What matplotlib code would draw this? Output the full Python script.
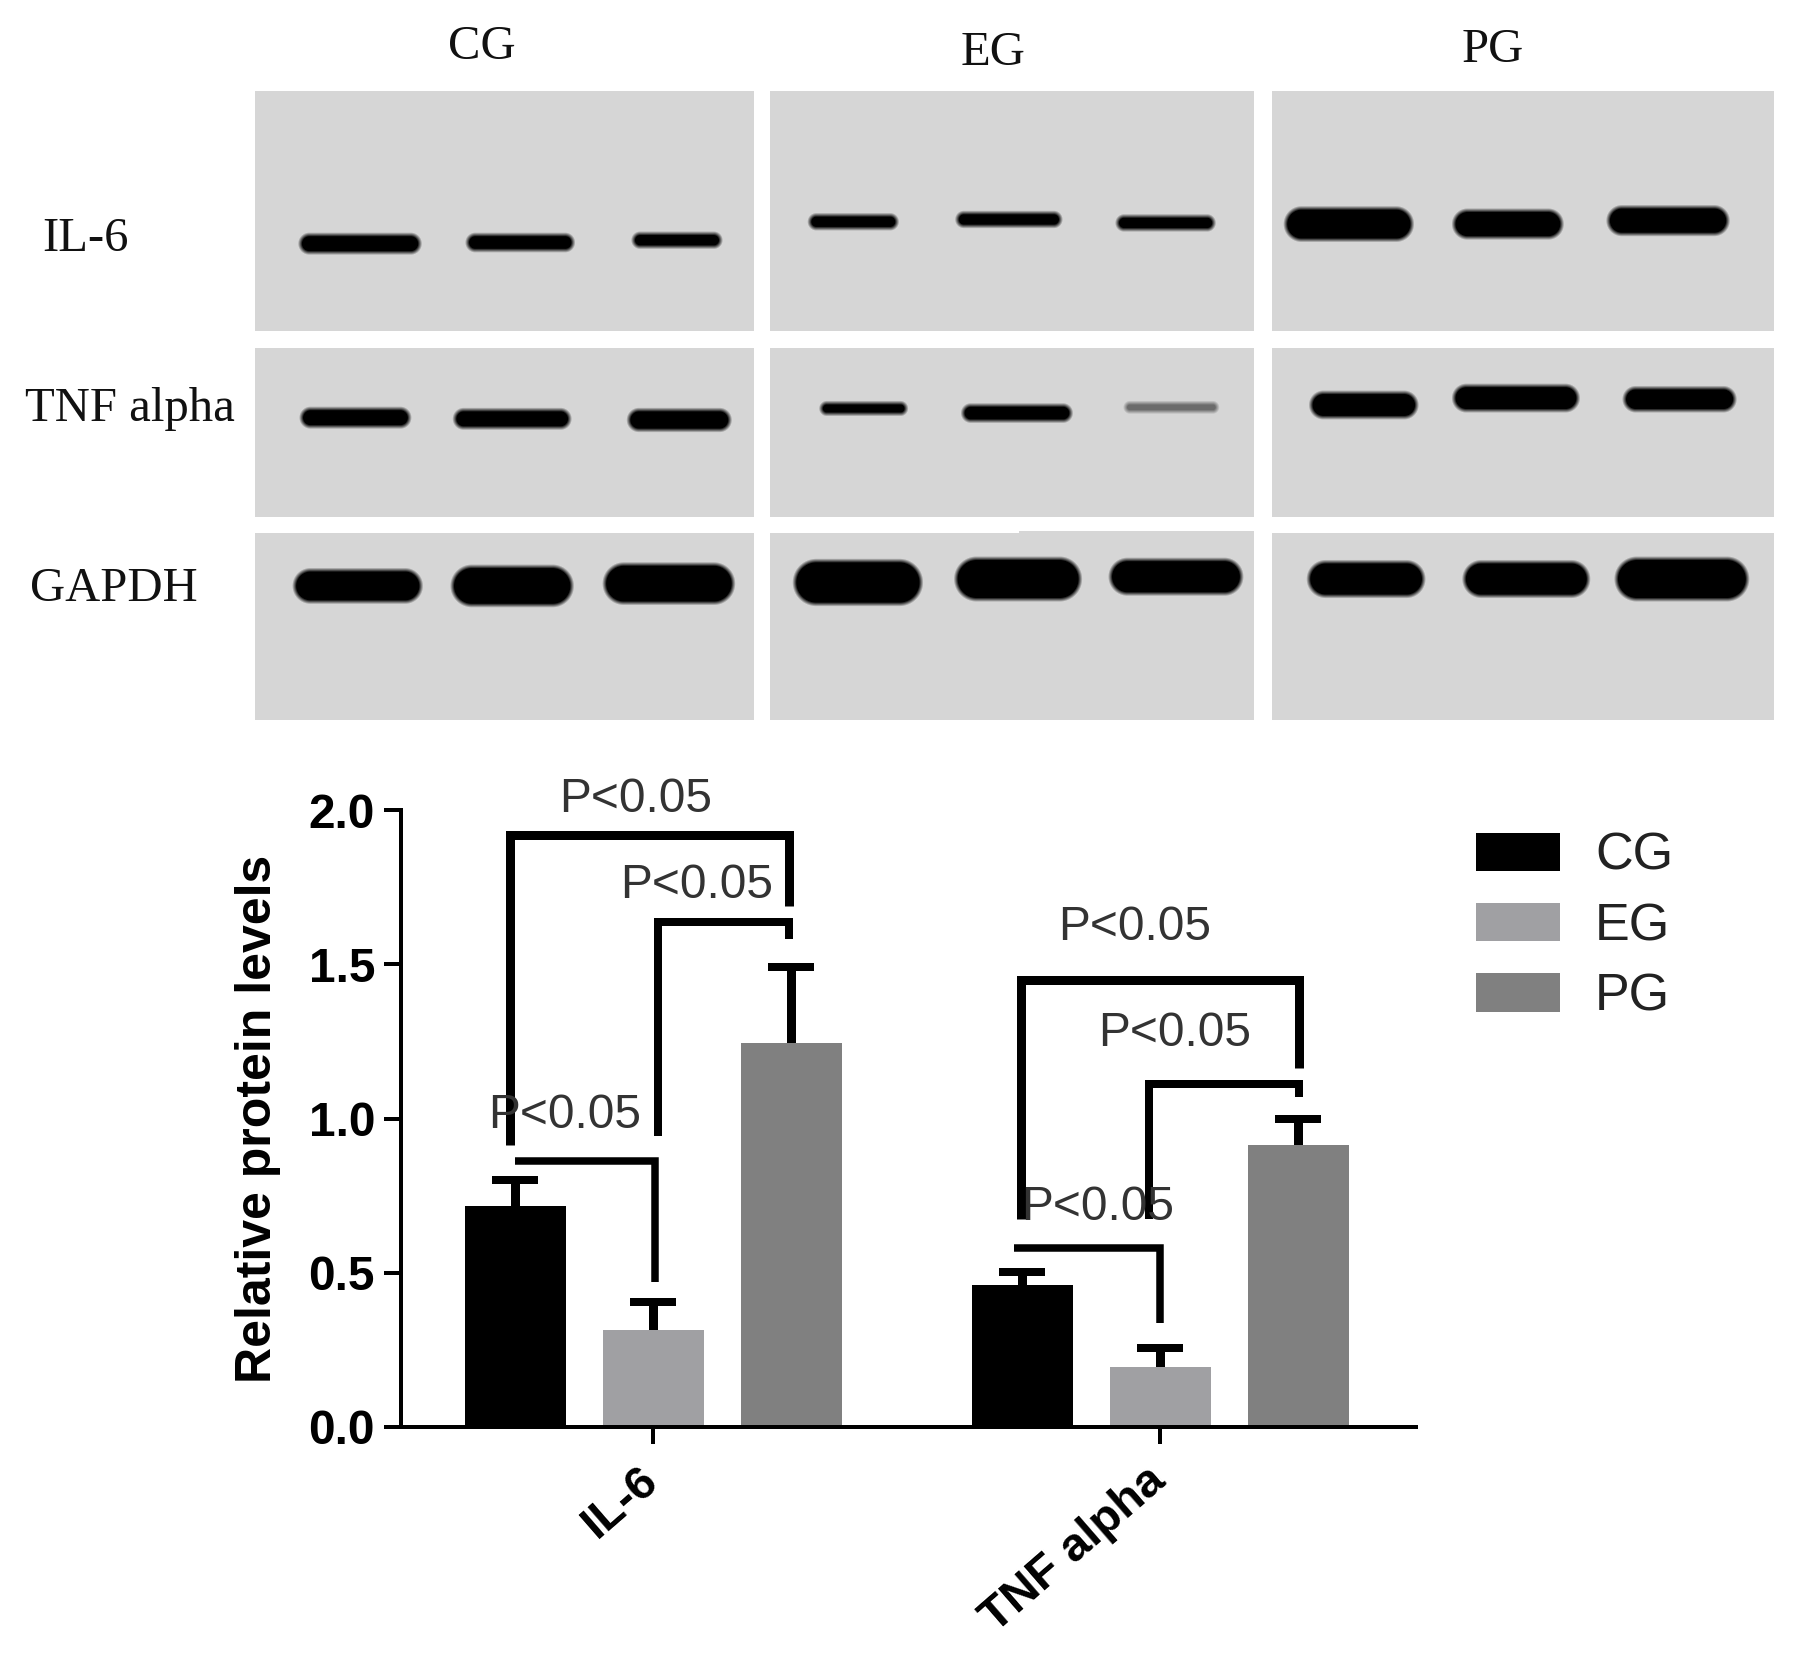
import numpy as np
import matplotlib
matplotlib.use("Agg")
import matplotlib.pyplot as plt
from matplotlib.patches import Patch
from matplotlib.transforms import ScaledTranslation

# ---------- data ----------
groups = ["IL-6", "TNF alpha"]
series = ["CG", "EG", "PG"]
cg_vals = [0.716, 0.461]
eg_vals = [0.313, 0.194]
pg_vals = [1.246, 0.914]
cg_err = [0.085, 0.040]
eg_err = [0.092, 0.063]
pg_err = [0.244, 0.086]
yticks = [0.0, 0.5, 1.0, 1.5, 2.0]
colors = ["#000000", "#A0A0A3", "#808080"]
p_text = "P<0.05"

blot_rows = ["IL-6", "TNF alpha", "GAPDH"]
# blot bands: centre x, centre y, half width, half height, strength (in shown-size px)
bands_il6 = [(312,211,52,8,1),(451,210,46,7,1),(587,208,38,6,1),
             (740,192,38,6,1),(875,190,45,6,1),(1011,193,42,6,1),
             (1170,194,55,14,1),(1308,194,47,12,1),(1447,191,52,12,1)]
bands_tnf = [(308,362,47,8,1),(444,363,50,8,1),(589,364,44,9,1),
             (749,354,37,5,1),(882,358,47,7,1),(1016,353,40,4,.5),
             (1183,351,46,11,1),(1315,345,54,11,1),(1457,346,48,10,1)]
bands_gapdh = [(310,508,55,14,1),(444,508,52,17,1),(580,506,56,17,1),
               (744,505,55,19,1),(883,502,54,18,1),(1020,500,57,15,1),
               (1185,502,50,15,1),(1324,502,54,15,1),(1459,502,57,18,1)]
panel_cols = [(222,655),(669,1089),(1104,1540)]
panel_rows = [(79,288),(302,449),(463,625)]

W, H = 1807, 1657
DISP = W / 1568
DPI = 100
plt.rcParams["font.family"] = ["Liberation Sans", "DejaVu Sans"]
fig = plt.figure(figsize=(W/DPI, H/DPI), dpi=DPI, facecolor="white")
pt = 72 / DPI  # px -> pt

# ---------- chart ----------
ax = fig.add_axes([401/W, 1-1427/H, (1416-401)/W, (1427-810)/H])
x = np.arange(len(groups))
off = 138/507
bw = 101/507
for i, (vals, errs, c, s) in enumerate(zip([cg_vals, eg_vals, pg_vals],
                                           [cg_err, eg_err, pg_err], colors, series)):
    pos = x + (i-1)*off
    ax.bar(pos, vals, width=bw, color=c, label=s, zorder=2)
    ax.errorbar(pos, vals, yerr=[[0.03]*len(vals), errs], fmt="none", ecolor="black",
                elinewidth=9*pt, capsize=23*pt, capthick=8*pt, zorder=1)
ax.set_xlim(-252/507, 763/507)
ax.set_ylim(0, 2)
ax.set_yticks(yticks)
ax.set_yticklabels([f"{t:.1f}" for t in yticks], fontsize=34.5, fontweight="bold")
ax.set_xticks(x)
ax.set_xticklabels(groups, fontsize=34, fontweight="bold", rotation=41, ha="right",
                   va="top", rotation_mode="anchor")
ax.tick_params(axis="y", length=17*pt, width=4*pt, pad=9*pt)
ax.tick_params(axis="x", length=17*pt, width=4*pt, pad=14*pt)
shift = ScaledTranslation(-15/DPI, 0, fig.dpi_scale_trans)
for lab in ax.get_xticklabels():
    lab.set_transform(lab.get_transform() + shift)
for s in ["top", "right"]:
    ax.spines[s].set_visible(False)
for s in ["left", "bottom"]:
    ax.spines[s].set_linewidth(4*pt)
ax.set_ylabel("Relative protein levels", fontsize=36, fontweight="bold")
ax.yaxis.set_label_coords((281-401)/1015, 0.5)
ax.patch.set_alpha(0)

handles = [Patch(facecolor=c, edgecolor="none", label=s) for c, s in zip(colors, series)]
fig.legend(handles=handles, loc="upper left", bbox_to_anchor=(1476/W, 1-832/H),
           bbox_transform=fig.transFigure, frameon=False, fontsize=37.5, borderpad=0,
           borderaxespad=0, handlelength=84/52, handleheight=39/52, handletextpad=35/52,
           labelspacing=0.41, labelcolor="#222222")

# ---------- overlay in pixel coordinates: blot + brackets ----------
pix = fig.add_axes([0, 0, 1, 1], zorder=5)
pix.set_axis_off()
pix.patch.set_alpha(0)

blot_h = 740
yy, xx = np.mgrid[0:blot_h, 0:W]
img = np.ones((blot_h, W), dtype=float)
for (c0, c1) in panel_cols:
    for (r0, r1) in panel_rows:
        img[int(r0*DISP):int(r1*DISP), int(c0*DISP):int(c1*DISP)] = 214/255
img[int(461*DISP):int(463*DISP), int(885*DISP):int(1089*DISP)] = 214/255
for cx, cy, hw, hh, st in bands_il6 + bands_tnf + bands_gapdh:
    cx, cy, hw, hh = cx*DISP, cy*DISP, hw*DISP, hh*DISP
    r = hh
    qx = np.abs(xx-cx) - (hw-r)
    qy = np.abs(yy-cy) - (hh-r)
    d = np.hypot(np.maximum(qx, 0), np.maximum(qy, 0)) + np.minimum(np.maximum(qx, qy), 0) - r
    a = np.clip(0.5 - d/4.5, 0, 1) * st
    img = img*(1-a)
pix.imshow(img, cmap="gray", vmin=0, vmax=1, extent=(0, W, blot_h, 0),
           aspect="auto", interpolation="bilinear")
pix.set_xlim(0, W)
pix.set_ylim(H, 0)

brackets = [
    ([510,510,789,789],[1145,835,835,906],9),
    ([658,658,789,789],[1136,922,922,939],8),
    ([515,655,655],[1161,1161,1282],7.5),
    ([1021,1021,1299,1299],[1219,980,980,1068],9),
    ([1149,1149,1299,1299],[1219,1084,1084,1097],8),
    ([1014,1160,1160],[1248,1248,1323],7.5),
]
for bx, by, lw in brackets:
    pix.plot(bx, by, color="black", lw=lw*pt, solid_joinstyle="miter", solid_capstyle="butt")

p_labels = [(636,800),(697,885),(565,1115),(1135,928),(1175,1033),(1098,1207)]
for px, py in p_labels:
    pix.text(px, py, p_text, fontsize=34.5, color="#333333", ha="center", va="center")

serif = ["Liberation Serif", "DejaVu Serif"]
for s, (px, py) in zip(series, [(418,41),(862,46),(1295,43)]):
    pix.text(px*DISP, py*DISP, s, family=serif, fontsize=35, color="#111111", ha="center", va="center")
for s, (px, py) in zip(blot_rows, [(74,207),(113,355),(99,511)]):
    pix.text(px*DISP, py*DISP, s, family=serif, fontsize=35, color="#111111", ha="center", va="center")

fig.savefig("out.png", dpi=DPI, facecolor="white")
